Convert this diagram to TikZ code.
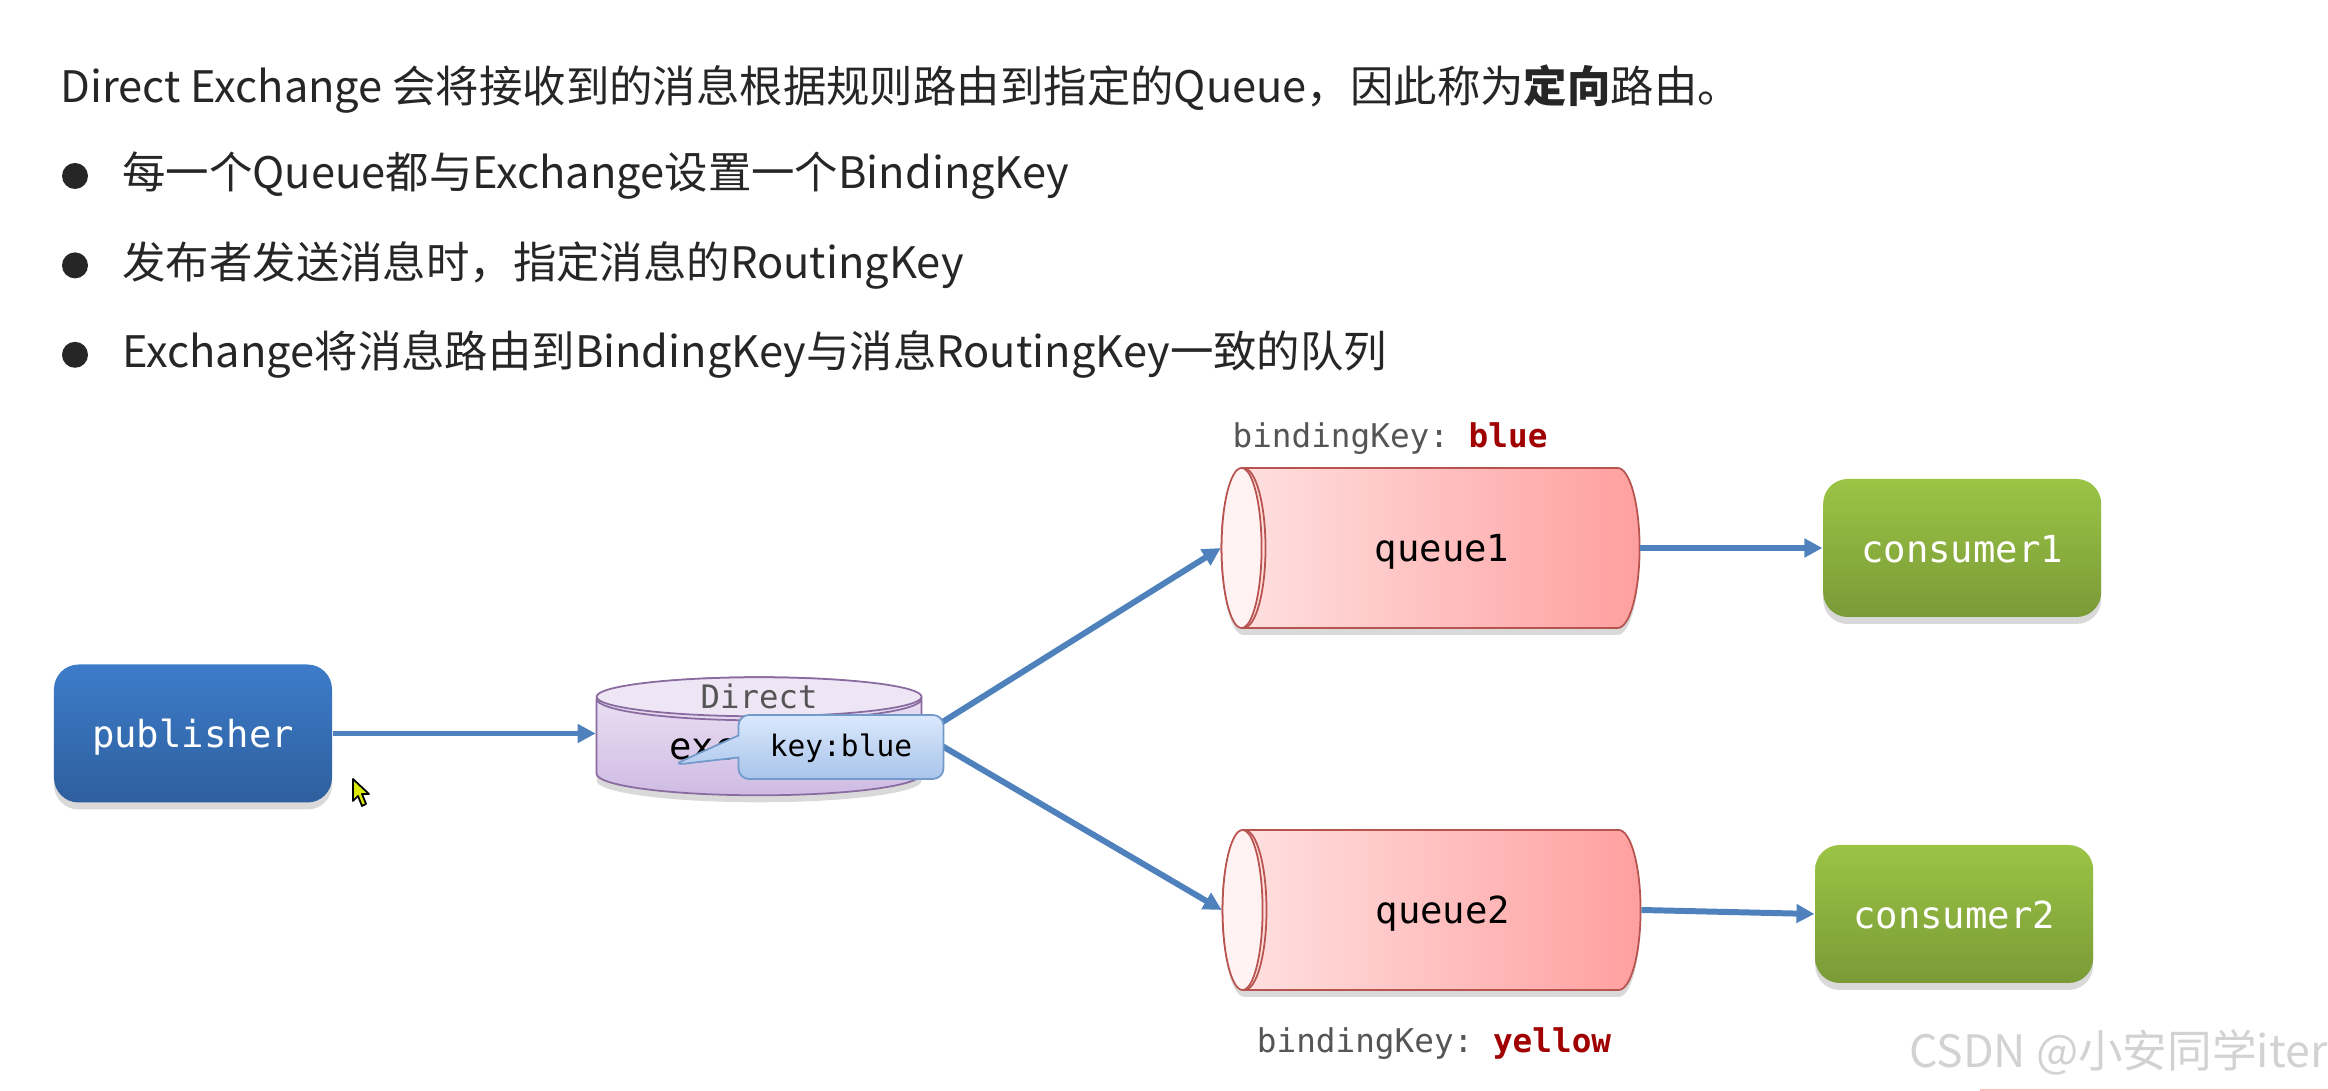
\documentclass[tikz,border=0pt]{standalone}
\usepackage{fontspec}
\setmainfont{Noto Sans CJK SC}
\setmonofont{DejaVu Sans Mono}
\usepackage{tikz}
\usetikzlibrary{positioning,shapes.geometric,shapes.callouts,shadows,arrows.meta}
\definecolor{arrblue}{HTML}{4F81BD}
\definecolor{keyred}{HTML}{A00000}
\definecolor{labelgray}{HTML}{555555}
\definecolor{bodyblack}{HTML}{262626}
\definecolor{pubtop}{HTML}{3D7CC9}
\definecolor{pubbot}{HTML}{2E5F9E}
\definecolor{contop}{HTML}{9BC445}
\definecolor{conbot}{HTML}{7A9A37}
\definecolor{queueleft}{HTML}{FFE3E3}
\definecolor{queueright}{HTML}{FF9F9F}
\definecolor{queueedge}{HTML}{B85450}
\definecolor{exchtop}{HTML}{EFE6F5}
\definecolor{exchbot}{HTML}{CFBBE4}
\definecolor{exchedge}{HTML}{8A6BA0}
\definecolor{keytop}{HTML}{DAE8FC}
\definecolor{keybot}{HTML}{A9C4EB}

\begin{document}
\begin{tikzpicture}[
    node distance=0.4cm and 0.5cm,
    softshadow/.style={drop shadow={shadow xshift=0cm, shadow yshift=-0.07cm, opacity=0.15, fill=black}},
    box/.style 2 args={rectangle, rounded corners=7pt, draw=none, top color=#1, bottom color=#2,
                minimum width=2.78cm, minimum height=1.38cm, inner sep=0pt, softshadow,
                text height=10pt, text depth=2pt,
                font=\fontsize{10.6}{12}\ttfamily, text=white},
    queue/.style={cylinder, shape border rotate=180, shape aspect=1, draw=queueedge, line width=0.5pt,
                  left color=queueleft, right color=queueright, minimum width=1.6cm, minimum height=4.18cm,
                  inner sep=0pt, softshadow, text height=10pt, text depth=2.5pt,
                  font=\fontsize{10.6}{12}\ttfamily},
    queueend/.style={ellipse, draw=queueedge, line width=0.5pt, fill=red!5, minimum width=0.4cm,
                     minimum height=1.6cm, inner sep=0pt},
    arr/.style={-{Triangle[length=1.8mm,width=1.8mm]}, line width=1.7pt, draw=arrblue},
    keylbl/.style={font=\fontsize{9.3}{11}\ttfamily, text=labelgray, inner sep=0pt},
    txt/.style={anchor=west, font=\fontsize{12.35}{14}\selectfont, text=bodyblack, inner sep=0pt},
    dot/.style={circle, fill=bodyblack, minimum size=0.26cm, inner sep=0pt}
]
\useasboundingbox (0,0) rectangle (23.28,10.91);

% Text lines at the top
\node[txt] (title) at (0.6,10.02) {Direct Exchange 会将接收到的消息根据规则路由到指定的Queue，因此称为\textbf{定向}路由。};
\node[dot] (dot1) at (0.75,9.15) {};
\node[txt, right=0.33cm of dot1] (line1) {每一个Queue都与Exchange设置一个BindingKey};
\node[dot, below=0.62cm of dot1] (dot2) {};
\node[txt, right=0.33cm of dot2] (line2) {发布者发送消息时，指定消息的RoutingKey};
\node[dot, below=0.62cm of dot2] (dot3) {};
\node[txt, right=0.33cm of dot3] (line3) {Exchange将消息路由到BindingKey与消息RoutingKey一致的队列};

% Publisher and exchange
\node[box={pubtop}{pubbot}] (pub) at (1.93,3.575) {publisher};
\node[cylinder, shape border rotate=90, shape aspect=0.24, draw=exchedge, line width=0.5pt,
      top color=exchtop, bottom color=exchbot, minimum width=3.25cm, minimum height=1.18cm, inner sep=0pt,
      softshadow, text height=7pt, text depth=0pt, font=\fontsize{10.6}{12}\ttfamily,
      right=2.63cm of pub, yshift=-0.14cm] (exch) {exchange};
\node[ellipse, draw=exchedge, line width=0.5pt, fill=exchtop, minimum width=3.25cm, minimum height=0.39cm,
      inner sep=0pt, font=\fontsize{9.2}{11}\ttfamily, text=labelgray, anchor=north] (exchname) at (exch.north) {Direct};
\coordinate[above=0.13cm of exch.east] (exchout);

% Queues and consumers (right column)
\node[queue] (queue1) at (14.42,5.43) {queue1};
\node[queueend, anchor=west] (q1end) at (queue1.west) {};
\node[queue] (queue2) at (14.43,1.81) {queue2};
\node[queueend, anchor=west] (q2end) at (queue2.west) {};
\node[box={contop}{conbot}, right=1.82cm of queue1] (con1) {consumer1};
\node[box={contop}{conbot}, right=1.73cm of queue2, yshift=-0.04cm] (con2) {consumer2};
\node[keylbl, above=0.12cm of queue1, xshift=-0.52cm] (bind1) {bindingKey: \textcolor{keyred}{\textbf{blue}}};
\node[keylbl, below=0.36cm of queue2, xshift=-0.09cm] (bind2) {bindingKey: \textcolor{keyred}{\textbf{yellow}}};

\draw[arr] (pub.east) -- (pub.east -| exch.west);
\draw[arr] (exchout) -- (queue1.west);
\draw[arr] (exchout) -- (queue2.west);
\draw[arr] (queue1.east) -- (con1.west);
\draw[arr] (queue2.east) -- (con2.west);

% Message on top of the exchange
\node[rectangle callout, callout absolute pointer={(6.73,3.26)}, callout pointer width=0.22cm, rounded corners=3pt,
      draw=arrblue!80, line width=0.5pt, top color=keytop, bottom color=keybot, minimum width=2.05cm, minimum height=0.64cm,
      inner sep=0pt, text height=7.5pt, text depth=2pt, font=\fontsize{8.4}{10}\ttfamily] (msg) at (8.41,3.44) {key:blue};

% Mouse pointer
\draw[black, line width=0.5pt, fill=yellow!85!green, line join=round]
    (3.53,3.12) -- (3.53,2.90) -- (3.58,2.95) -- (3.62,2.85) -- (3.66,2.87) -- (3.62,2.97) -- (3.69,2.97) -- cycle;

% Watermark and bottom rule
\node[anchor=east, font=\fontsize{12.7}{15}\selectfont, text=gray!35, inner sep=0pt] (mark) at (23.28,0.39) {CSDN @小安同学iter};
\fill[red!25] (19.8,0) rectangle (23.28,0.02);

\end{tikzpicture}
\end{document}
